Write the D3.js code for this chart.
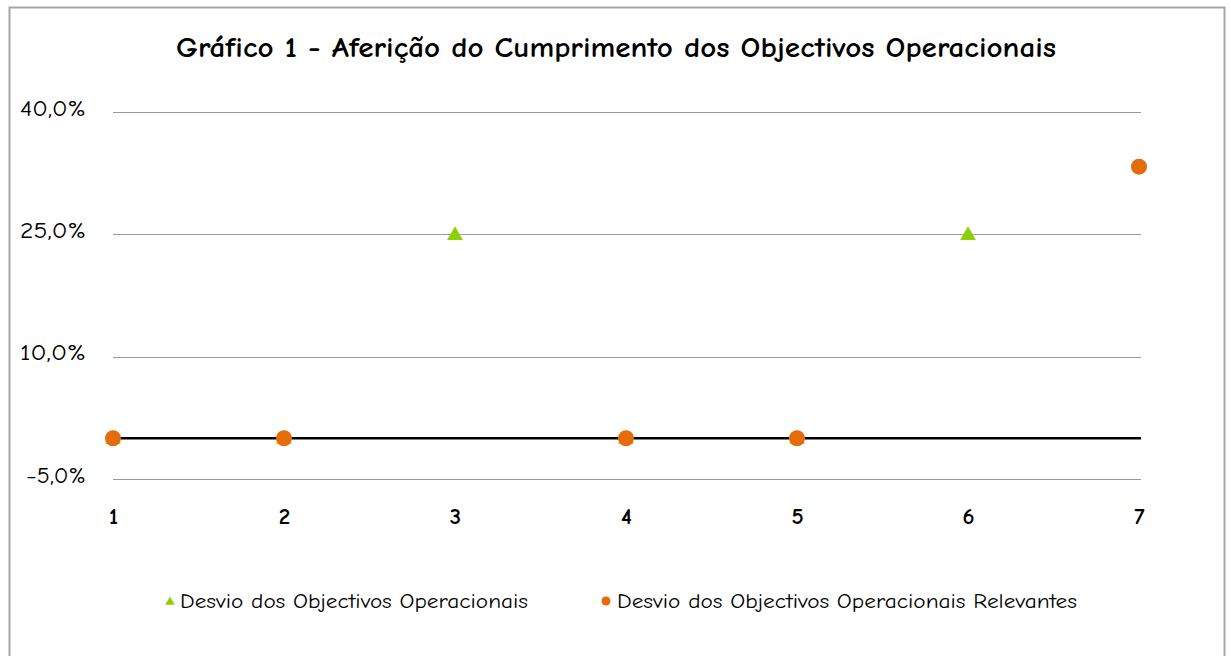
<!DOCTYPE html>
<html>
<head>
<meta charset="utf-8">
<script src="https://cdn.jsdelivr.net/npm/d3@7"></script>
<style>
  body { margin:0; background:#fff; }
  svg text { font-family: "Comic Sans MS", "Comic Neue", "DejaVu Sans", sans-serif; fill:#000; }
</style>
</head>
<body>
<svg id="chart" width="1231" height="656"></svg>
<script>
// dados do grafico
var categorias = [1, 2, 3, 4, 5, 6, 7];
var desvioOper = [0, 0, 25, 0, 0, 25, null];          // triangulos verdes
var desvioRelev = [0, 0, null, 0, 0, null, 33.3];      // circulos laranja
var ticksY = [-5, 10, 25, 40];
var titulo = "Gráfico 1  -  Aferição do Cumprimento dos Objectivos Operacionais";
var nomesSeries = ["Desvio dos Objectivos Operacionais", "Desvio dos Objectivos Operacionais Relevantes"];

var corVerde = "#8fcf0a", corLaranja = "#e46c0a";

var svg = d3.select("#chart");

// moldura
svg.append("rect").attr("x", 9.5).attr("y", 7.5).attr("width", 1215).attr("height", 660)
  .attr("fill", "#fff").attr("stroke", "#a6a6a6").attr("stroke-width", 2);

var x = d3.scaleLinear().domain([1, 7]).range([113, 1139]);
var y = d3.scaleLinear().domain([-5, 40]).range([479, 112]);

// titulo
svg.append("text").attr("x", 616).attr("y", 57).attr("text-anchor", "middle")
  .attr("textLength", 880).attr("lengthAdjust", "spacingAndGlyphs")
  .style("font-size", "29px").style("font-weight", "bold").text(titulo);

// grelha
svg.append("g").selectAll("line").data(ticksY).join("line")
  .attr("x1", 113).attr("x2", 1141)
  .attr("y1", function (d) { return Math.round(y(d)) + 0.5; })
  .attr("y2", function (d) { return Math.round(y(d)) + 0.5; })
  .attr("stroke", "#999").attr("stroke-width", 1.2);

// eixo Y
var eixoY = d3.axisLeft(y).tickValues(ticksY).tickSize(0).tickPadding(0)
  .tickFormat(function (d) { return d3.format(".1f")(d).replace(".", ",") + "%"; });
var gY = svg.append("g").attr("transform", "translate(86,0)").call(eixoY);
gY.select(".domain").remove();
gY.selectAll("text").style("font-size", "22px").attr("dy", "0.15em")
  .attr("textLength", function (d) { return d < 0 ? 60 : 66; })
  .attr("lengthAdjust", "spacingAndGlyphs");

// linha do zero
svg.append("line").attr("x1", 113).attr("x2", 1141).attr("y1", y(0)).attr("y2", y(0))
  .attr("stroke", "#000").attr("stroke-width", 2.5);

// eixo X (rotulos)
var eixoX = d3.axisBottom(x).tickValues(categorias).tickSize(0).tickPadding(0)
  .tickFormat(d3.format("d"));
var gX = svg.append("g").attr("transform", "translate(0,514)").call(eixoX);
gX.select(".domain").remove();
gX.selectAll("text").style("font-size", "23px").attr("dy", "0.45em").style("font-weight", "bold");

// serie verde (triangulos)
var tri = d3.symbol().type(d3.symbolTriangle).size(110);
svg.append("g").selectAll("path")
  .data(categorias.map(function (c, i) { return {c: c, v: desvioOper[i]}; })
    .filter(function (d) { return d.v !== null; }))
  .join("path")
  .attr("d", tri)
  .attr("transform", function (d) { return "translate(" + x(d.c) + "," + (y(d.v) + 1) + ")"; })
  .attr("fill", corVerde);

// serie laranja (circulos)
svg.append("g").selectAll("circle")
  .data(categorias.map(function (c, i) { return {c: c, v: desvioRelev[i]}; })
    .filter(function (d) { return d.v !== null; }))
  .join("circle")
  .attr("cx", function (d) { return x(d.c); })
  .attr("cy", function (d) { return y(d.v); })
  .attr("r", 8)
  .attr("fill", corLaranja);

// legenda
var leg = svg.append("g");
leg.append("path").attr("d", d3.symbol().type(d3.symbolTriangle).size(40))
  .attr("transform", "translate(170,602)").attr("fill", corVerde);
leg.append("text").attr("x", 180).attr("y", 608).style("font-size", "21px")
  .attr("textLength", 348).attr("lengthAdjust", "spacingAndGlyphs").text(nomesSeries[0]);
leg.append("circle").attr("cx", 606).attr("cy", 601).attr("r", 4.5).attr("fill", corLaranja);
leg.append("text").attr("x", 617).attr("y", 608).style("font-size", "21px")
  .attr("textLength", 460).attr("lengthAdjust", "spacingAndGlyphs").text(nomesSeries[1]);
</script>
</body>
</html>
